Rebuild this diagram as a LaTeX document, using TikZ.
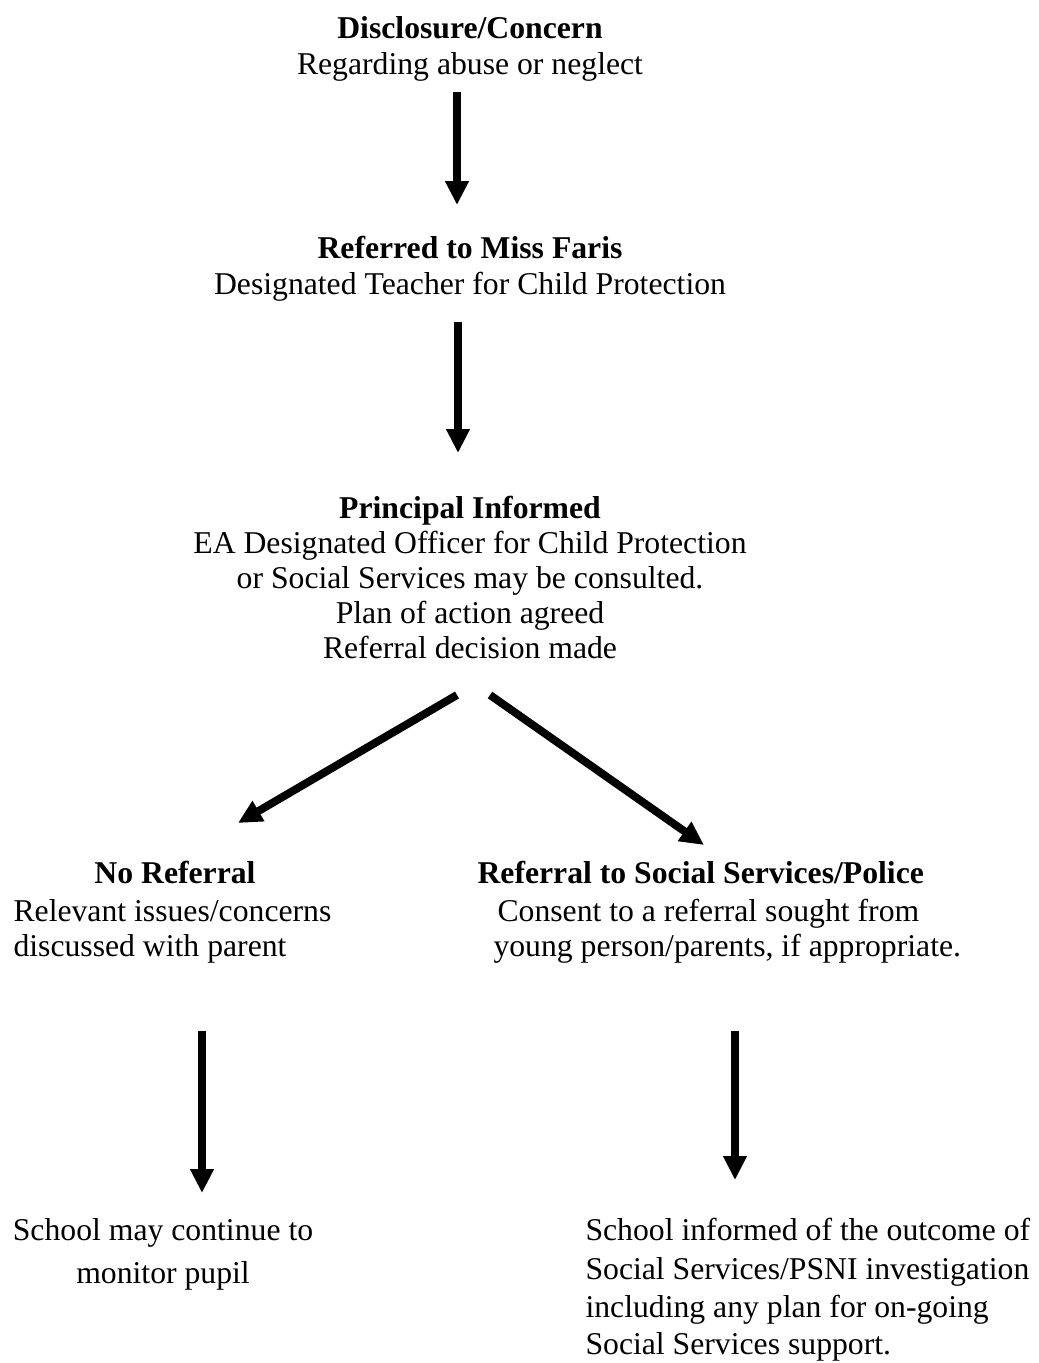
\documentclass[tikz,border=0pt]{standalone}
\usepackage{fontspec}
\setmainfont{Liberation Serif}
\usetikzlibrary{arrows.meta}

\begin{document}
\begin{tikzpicture}[x=0.3785pt,y=-0.3785pt,
  txt/.style={anchor=base,inner sep=0pt,font=\fontsize{12}{13.8}\selectfont},
  ltxt/.style={txt,anchor=base west},
  flow/.style={line width=3pt,-{Triangle[length=9pt,width=8.4pt]}}]
\useasboundingbox (0,0) rectangle (1038,1363);

% disclosure
\node[txt] (disc) at (470,39) {\textbf{Disclosure/Concern}};
\node[txt] (disc2) at (470,74) {Regarding abuse or neglect};

% designated teacher
\node[txt] (dt) at (470,258) {\textbf{Referred to Miss Faris}};
\node[txt] (dt2) at (470,294) {Designated Teacher for Child Protection};

% principal
\node[txt] (prin) at (470,518) {\textbf{Principal Informed}};
\foreach \n/\y/\t in {2/553/EA Designated Officer for Child Protection,
    3/588/or Social Services may be consulted.,
    4/623/Plan of action agreed,
    5/658/Referral decision made}
  \node[txt] (prin\n) at (470,\y) {\t};

% no referral
\node[txt] (noref) at (175,883) {\textbf{No Referral}};
\node[ltxt] (noref2) at (13,921) {Relevant issues/concerns};
\node[ltxt] (noref3) at (13,956) {discussed with parent};

% referral
\node[ltxt] (ref) at (477,883) {\textbf{Referral to Social Services/Police}};
\node[ltxt] (ref2) at (497,921) {Consent to a referral sought from};
\node[ltxt] (ref3) at (493,956) {young person/parents, if appropriate.};

% outcomes
\node[txt] (mon) at (163,1240) {School may continue to};
\node[txt] (mon2) at (163,1283) {monitor pupil};
\node[ltxt] (out) at (585,1240) {School informed of the outcome of};
\node[ltxt] (out2) at (585,1279) {Social Services/PSNI investigation};
\node[ltxt] (out3) at (585,1317) {including any plan for on-going};
\node[ltxt] (out4) at (585,1354) {Social Services support.};

% arrows
\coordinate (a1) at (457,92);   \coordinate (b1) at (457,205);
\coordinate (a2) at (458,322);  \coordinate (b2) at (458,453);
\coordinate (a3) at (457,695);  \coordinate (b3) at (238,823);
\coordinate (a4) at (490,695);  \coordinate (b4) at (704,845);
\coordinate (a5) at (202,1031); \coordinate (b5) at (202,1193);
\coordinate (a6) at (735,1031); \coordinate (b6) at (735,1180);
\foreach \i in {1,...,6}
  \draw[flow] (a\i) -- (b\i);
\end{tikzpicture}
\end{document}
